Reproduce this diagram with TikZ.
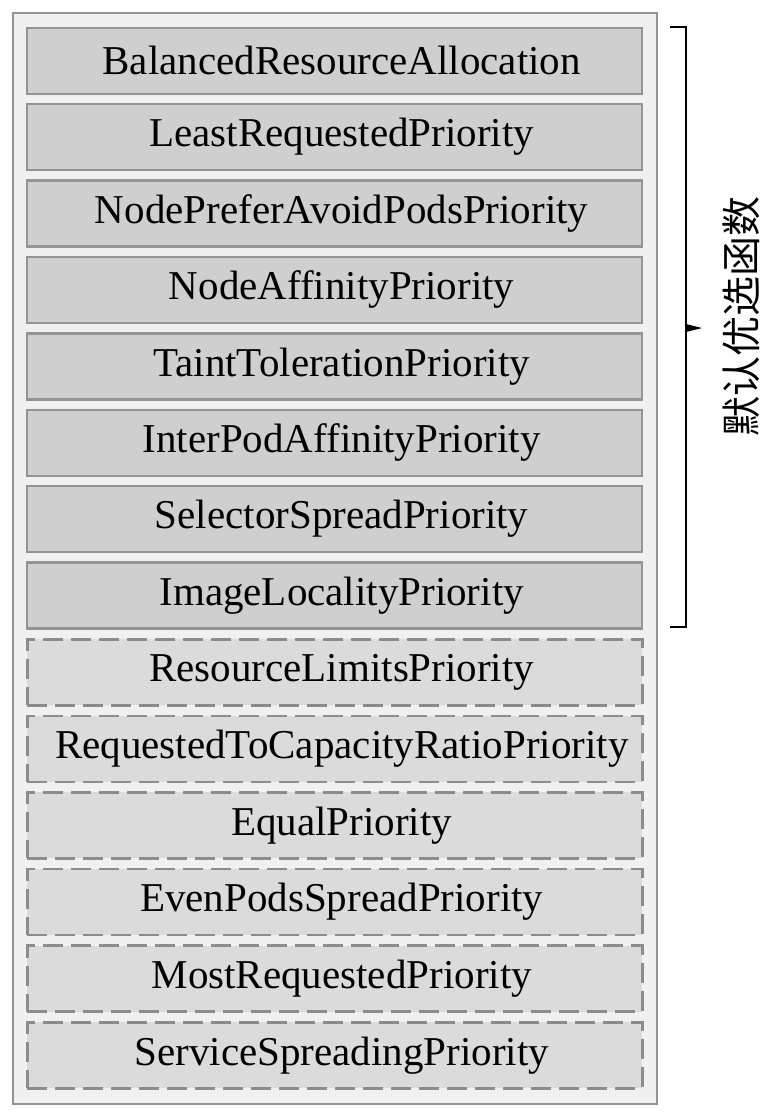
\documentclass[tikz,border=0pt]{standalone}
\usepackage{fontspec}
\setmainfont{Liberation Serif}
\newfontfamily\cjk{Noto Sans CJK SC}
\begin{document}
\begin{tikzpicture}[x=1pt,y=-1pt,
  frame/.style={draw=black!42,line width=2.2pt,fill=black!6},
  defaultbox/.style={draw=black!42,line width=2.4pt,fill=black!19,
    minimum width=615pt,minimum height=66pt,inner sep=0pt,anchor=north west,
    font=\fontsize{41}{44}\selectfont},
  extrabox/.style={defaultbox,draw=black!45,fill=black!14,line width=2.5pt,
    dash pattern=on 20pt off 8pt},
  bracket/.style={draw=black,line width=2pt},
  sidelabel/.style={font=\cjk\fontsize{40}{42}\selectfont,rotate=90,inner sep=0pt}]
\useasboundingbox (0,0) rectangle (765,1120);
% outer container
\node[frame,minimum width=644pt,minimum height=1091pt,anchor=north west,inner sep=0pt] (outer) at (12,12) {};
% default priority functions
\foreach \name [count=\i from 0] in {BalancedResourceAllocation,LeastRequestedPriority,NodePreferAvoidPodsPriority,NodeAffinityPriority,TaintTolerationPriority,InterPodAffinityPriority,SelectorSpreadPriority,ImageLocalityPriority}
  \node[defaultbox] (d\i) at (26,26.5+\i*76.4) {\hspace{14pt}\name};
% optional priority functions
\foreach \name [count=\i from 0] in {ResourceLimitsPriority,RequestedToCapacityRatioPriority,EqualPriority,EvenPodsSpreadPriority,MostRequestedPriority,ServiceSpreadingPriority}
  \node[extrabox] (e\i) at (26,638+\i*76.6) {\hspace{14pt}\name};
% brace grouping the default set
\coordinate (btop) at (670,26.5);
\coordinate (bbot) at (670,627.3);
\coordinate (bmid) at (702,328);
\draw[bracket] (btop) -- (686,26.5) -- (686,627.3) -- (bbot);
\fill (686,324) -- (bmid) -- (686,332) -- cycle;
\node[sidelabel] (label) at (741,316) {默认优选函数};
\end{tikzpicture}
\end{document}
